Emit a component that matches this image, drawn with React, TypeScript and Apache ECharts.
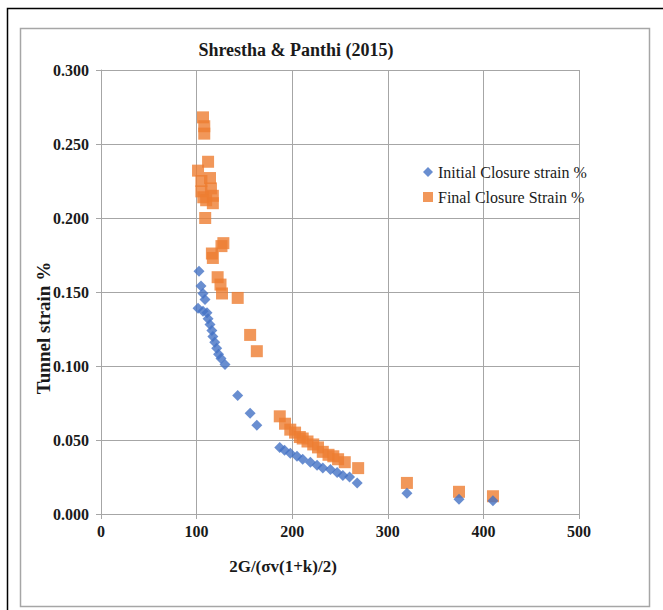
import React, { useEffect, useRef } from "react";
import * as echarts from "echarts";

const title = "Shrestha & Panthi (2015)";
const xAxisName = "2G/(σv(1+k)/2)";
const yAxisName = "Tunnel strain %";
const initialName = "Initial Closure strain %";
const finalName = "Final Closure Strain %";

const initialX = [102.5, 104.6, 106.7, 108.8, 101.5, 106.7, 110.9, 112, 114, 116, 117, 119, 121, 123, 125.5, 129.7, 143, 156, 163, 187, 192, 198, 205, 211, 219, 226, 232, 240, 247, 253, 260, 268, 320, 374.5, 410];
const initialY = [0.164, 0.154, 0.149, 0.145, 0.139, 0.137, 0.136, 0.132, 0.128, 0.124, 0.12, 0.116, 0.112, 0.108, 0.105, 0.101, 0.08, 0.068, 0.06, 0.045, 0.043, 0.041, 0.039, 0.037, 0.035, 0.033, 0.031, 0.03, 0.028, 0.026, 0.025, 0.021, 0.014, 0.01, 0.009];

const finalX = [106.7, 108, 108, 112, 101.5, 114, 105, 105, 115, 117, 107, 117, 110, 109, 128, 126, 116, 117, 122, 125, 126.6, 143, 156, 163, 187, 192.5, 198, 203, 208, 211, 216, 222, 227, 232, 238, 243, 248, 255, 269, 320, 374.5, 410];
const finalY = [0.268, 0.262, 0.257, 0.238, 0.232, 0.227, 0.225, 0.218, 0.22, 0.215, 0.214, 0.21, 0.212, 0.2, 0.183, 0.181, 0.176, 0.173, 0.16, 0.155, 0.149, 0.146, 0.121, 0.11, 0.066, 0.061, 0.057, 0.055, 0.052, 0.051, 0.049, 0.047, 0.045, 0.042, 0.04, 0.039, 0.037, 0.035, 0.031, 0.021, 0.015, 0.012];

const serif = "Liberation Serif";
const textColor = "#1a1a1a";

export default function App() {
  const ref = useRef<HTMLDivElement>(null);
  useEffect(() => {
    if (!ref.current) return;
    const chart = echarts.init(ref.current, undefined, { renderer: "svg" });
    const initialData = initialX.map((x, i) => [x, initialY[i]]);
    const finalData = finalX.map((x, i) => [x, finalY[i]]);
    chart.setOption({
      animation: false,
      backgroundColor: "#ffffff",
      title: {
        text: title,
        left: 291,
        top: 36,
        textAlign: "center",
        textStyle: { fontFamily: serif, fontWeight: "bold", fontSize: 18, color: textColor },
      },
      grid: { left: 101, right: 84, top: 70, bottom: 96 },
      legend: {
        orient: "vertical",
        left: 418,
        top: 159,
        itemGap: 9,
        itemWidth: 10,
        itemHeight: 10,
        textStyle: { fontFamily: serif, fontSize: 16, color: textColor },
        data: [
          { name: initialName, icon: "diamond" },
          { name: finalName, icon: "rect" },
        ],
      },
      graphic: [
        { type: "rect", shape: { x: 7.5, y: 8.5, width: 670, height: 620 }, style: { fill: "none", stroke: "#000000", lineWidth: 1.5 }, silent: true },
        { type: "rect", shape: { x: 20.5, y: 28.5, width: 629, height: 578 }, style: { fill: "none", stroke: "#a6a6a6", lineWidth: 1.5 }, silent: true },
        {
          type: "text",
          x: 283,
          y: 566,
          style: { text: xAxisName, fontFamily: serif, fontWeight: "bold", fontSize: 17, fill: textColor, textAlign: "center", textVerticalAlign: "middle" },
          silent: true,
        },
        {
          type: "text",
          x: 43,
          y: 328,
          rotation: Math.PI / 2,
          style: { text: yAxisName, fontFamily: serif, fontWeight: "bold", fontSize: 19, fill: textColor, textAlign: "center", textVerticalAlign: "middle" },
          silent: true,
        },
      ],
      xAxis: {
        type: "value",
        min: 0,
        max: 500,
        interval: 100,
        axisLine: { show: true, lineStyle: { color: "#a6a6a6" } },
        axisTick: { show: true, length: 5, lineStyle: { color: "#a6a6a6" } },
        axisLabel: { fontFamily: serif, fontWeight: "bold", fontSize: 16, color: textColor, margin: 9 },
        splitLine: { show: true, lineStyle: { color: "#a6a6a6", width: 1 } },
      },
      yAxis: {
        type: "value",
        min: 0,
        max: 0.3,
        interval: 0.05,
        axisLine: { show: true, lineStyle: { color: "#a6a6a6" } },
        axisTick: { show: true, length: 5, lineStyle: { color: "#a6a6a6" } },
        axisLabel: {
          fontFamily: serif,
          fontWeight: "bold",
          fontSize: 16,
          color: textColor,
          margin: 12,
          formatter: (v: number) => v.toFixed(3),
        },
        splitLine: { show: true, lineStyle: { color: "#a6a6a6", width: 1 } },
      },
      series: [
        {
          name: initialName,
          type: "scatter",
          symbol: "diamond",
          symbolSize: 11,
          itemStyle: { color: "#4472C4" },
          data: initialData,
          z: 3,
        },
        {
          name: finalName,
          type: "scatter",
          symbol: "rect",
          symbolSize: 12,
          itemStyle: { color: "#ED7D31" },
          data: finalData,
          z: 2,
        },
      ],
    });
    return () => chart.dispose();
  }, []);
  return (
    <div
      ref={ref}
      style={{ position: "fixed", left: 0, top: 0, width: 663, height: 610 }}
    />
  );
}
